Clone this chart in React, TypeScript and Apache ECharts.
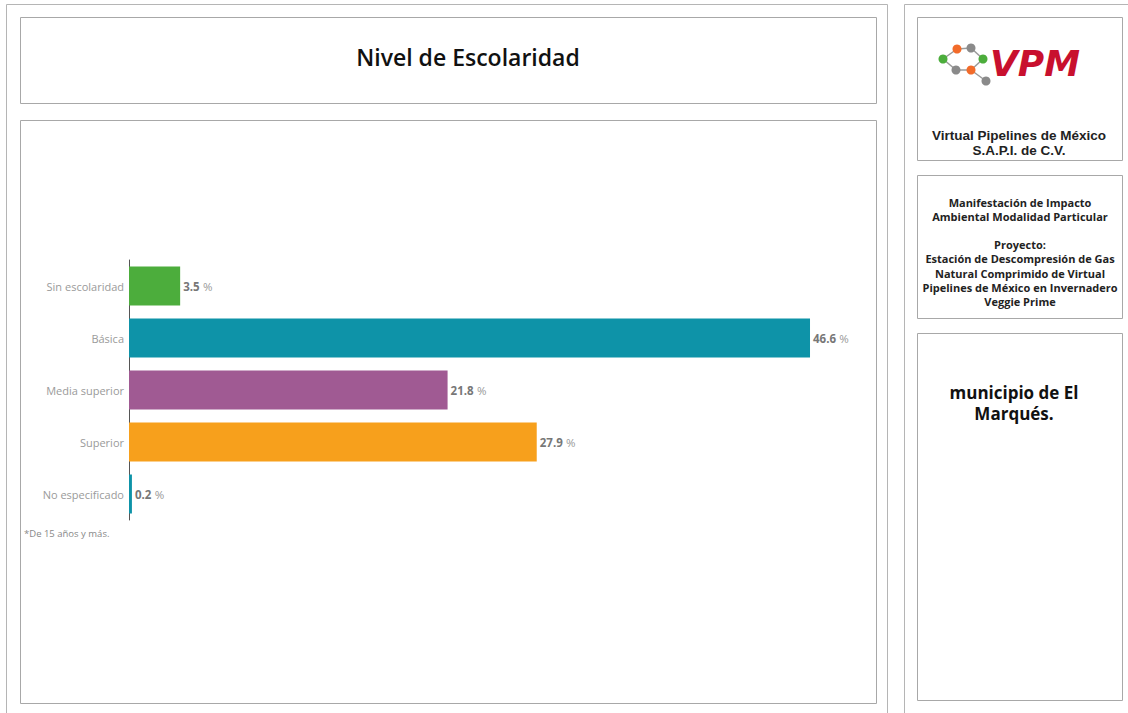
import React, { useEffect, useRef } from "react";
import * as echarts from "echarts";

const categories = ["Sin escolaridad", "Básica", "Media superior", "Superior", "No especificado"];
const values = [3.5, 46.6, 21.8, 27.9, 0.2];
const barColors = ["#4cad3c", "#0e93a8", "#a05a93", "#f7a01c", "#0e93a8"];
const title = "Nivel de Escolaridad";
const footnote = "*De 15 años y más.";
const companyLines = ["Virtual Pipelines de México", "S.A.P.I. de C.V."];
const projectLines = [
  "Manifestación de Impacto",
  "Ambiental Modalidad Particular",
  "",
  "Proyecto:",
  "Estación de Descompresión de Gas",
  "Natural Comprimido de Virtual",
  "Pipelines de México en Invernadero",
  "Veggie Prime",
];
const municipioLines = ["municipio de El", "Marqués."];

export default function App() {
  const ref = useRef<HTMLDivElement>(null);
  useEffect(() => {
    if (!ref.current) return;
    const chart = echarts.init(ref.current, undefined, { renderer: "svg" });
    const boxStroke = "#a8a8a8";
    const frame = (x: number, y: number, w: number, h: number, stroke = boxStroke) => ({
      type: "rect",
      shape: { x, y, width: w, height: h },
      style: { fill: "none", stroke, lineWidth: 1 },
      silent: true,
    });
    const nodes = [
      { x: 943, y: 59, c: "#4cad3c" },
      { x: 957, y: 49, c: "#f26b2a" },
      { x: 971, y: 48, c: "#8a8a8a" },
      { x: 983, y: 59, c: "#4cad3c" },
      { x: 971, y: 70, c: "#f26b2a" },
      { x: 956, y: 70, c: "#8a8a8a" },
      { x: 986, y: 81, c: "#8a8a8a" },
    ];
    const links = [[0, 1], [1, 2], [2, 3], [3, 4], [4, 5], [5, 0], [4, 6]];
    const graphic: any[] = [
      frame(6.5, 4.5, 881, 720, "#b5b5b5"),
      frame(904.5, 4.5, 240, 720, "#b5b5b5"),
      frame(20.5, 17.5, 856, 86),
      frame(20.5, 120.5, 856, 583),
      frame(917.5, 17.5, 205, 143),
      frame(917.5, 175.5, 205, 143),
      frame(917.5, 333.5, 205, 367),
      {
        type: "text",
        x: 468,
        y: 57,
        style: {
          text: title,
          fontFamily: "Open Sans",
          fontWeight: 600,
          fontSize: 23,
          fill: "#111",
          align: "center",
          verticalAlign: "middle",
        },
      },
      {
        type: "text",
        x: 24,
        y: 533,
        style: {
          text: footnote,
          fontFamily: "Open Sans",
          fontSize: 9.5,
          fill: "#888",
          align: "left",
          verticalAlign: "middle",
        },
      },
    ];
    links.forEach(([a, b]) => {
      graphic.push({
        type: "line",
        shape: { x1: nodes[a].x, y1: nodes[a].y, x2: nodes[b].x, y2: nodes[b].y },
        style: { stroke: "#9a9a9a", lineWidth: 1.5 },
      });
    });
    nodes.forEach((n) => {
      graphic.push({
        type: "circle",
        shape: { cx: n.x, cy: n.y, r: 4.5 },
        style: { fill: n.c },
      });
    });
    graphic.push({
      type: "text",
      x: 1035,
      y: 63,
      style: {
        text: "VPM",
        fontFamily: "DejaVu Sans",
        fontWeight: 700,
        fontStyle: "italic",
        fontSize: 36,
        fill: "#c8102e",
        align: "center",
        verticalAlign: "middle",
      },
    });
    companyLines.forEach((t, i) => {
      graphic.push({
        type: "text",
        x: 1019,
        y: 135 + i * 15,
        style: {
          text: t,
          fontFamily: "Liberation Sans",
          fontWeight: 700,
          fontSize: 13.5,
          fill: "#222",
          align: "center",
          verticalAlign: "middle",
        },
      });
    });
    projectLines.forEach((t, i) => {
      if (!t) return;
      graphic.push({
        type: "text",
        x: 1020,
        y: 202 + i * 14.2,
        style: {
          text: t,
          fontFamily: "Open Sans",
          fontWeight: 700,
          fontSize: 11,
          fill: "#222",
          align: "center",
          verticalAlign: "middle",
        },
      });
    });
    municipioLines.forEach((t, i) => {
      graphic.push({
        type: "text",
        x: 1014,
        y: 392 + i * 21,
        style: {
          text: t,
          fontFamily: "Open Sans",
          fontWeight: 700,
          fontSize: 17,
          fill: "#111",
          align: "center",
          verticalAlign: "middle",
        },
      });
    });

    chart.setOption({
      animation: false,
      backgroundColor: "#ffffff",
      grid: { left: 129, top: 260, height: 260, width: 730.7, containLabel: false },
      xAxis: {
        type: "value",
        min: 0,
        max: 50,
        show: false,
      },
      yAxis: {
        type: "category",
        data: categories,
        inverse: true,
        axisLine: { show: true, lineStyle: { color: "#555", width: 1 } },
        axisTick: { show: false },
        axisLabel: { color: "#9a9a9a", fontFamily: "Open Sans", fontSize: 11, margin: 5 },
      },
      series: [
        {
          type: "bar",
          barCategoryGap: "25%",
          data: values.map((v, i) => ({ value: v, itemStyle: { color: barColors[i] } })),
          label: {
            show: true,
            position: "right",
            distance: 3,
            formatter: (p: any) => `{v|${p.value.toFixed(1)}} {p|%}`,
            rich: {
              v: { fontFamily: "Open Sans", fontWeight: 700, fontSize: 11.5, color: "#777" },
              p: { fontFamily: "Open Sans", fontSize: 11.5, color: "#999" },
            },
          },
        },
      ],
      graphic,
    });
    return () => chart.dispose();
  }, []);
  return (
    <div
      ref={ref}
      style={{ position: "absolute", left: 0, top: 0, width: 1128, height: 713, background: "#fff" }}
    />
  );
}
